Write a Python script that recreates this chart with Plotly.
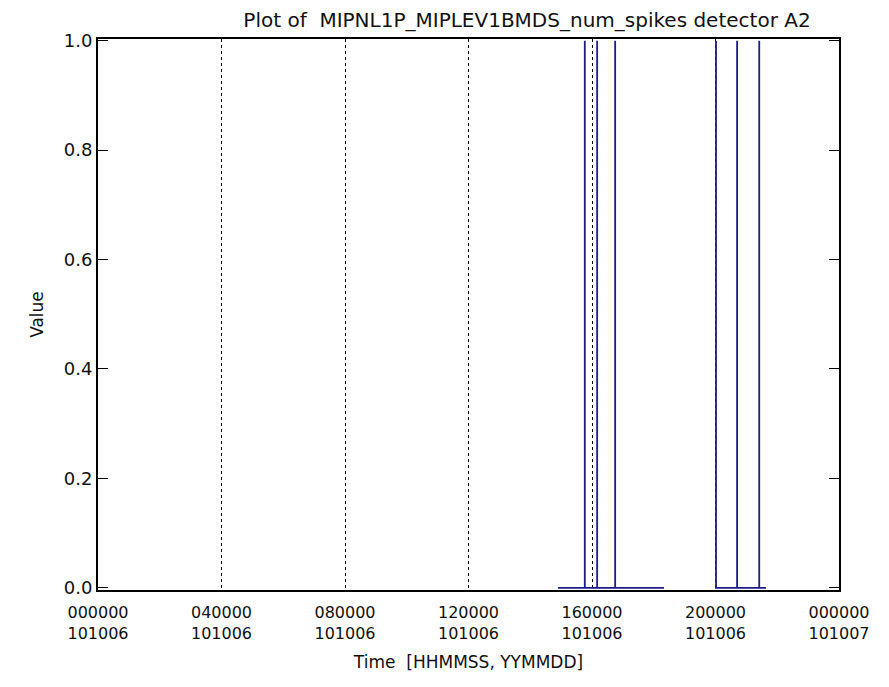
import plotly.graph_objects as go

# Data segments (start/end of sampled intervals) and spike times with value 1
segment_starts = ["2010-10-06 14:54:00", "2010-10-06 19:59:00"]
segment_ends = ["2010-10-06 18:20:00", "2010-10-06 21:38:00"]
spike_times = [
    ["2010-10-06 15:46:00", "2010-10-06 16:10:00", "2010-10-06 16:45:00"],
    ["2010-10-06 20:01:00", "2010-10-06 20:42:00", "2010-10-06 21:25:00"],
]
spike_value = 1.0
base_value = 0.0

tick_times = ["2010-10-06 00:00:00", "2010-10-06 04:00:00", "2010-10-06 08:00:00",
              "2010-10-06 12:00:00", "2010-10-06 16:00:00", "2010-10-06 20:00:00",
              "2010-10-07 00:00:00"]
ytick_vals = [0.0, 0.2, 0.4, 0.6, 0.8, 1.0]

xs, ys = [], []
for s, e, sp in zip(segment_starts, segment_ends, spike_times):
    xs.append(s); ys.append(base_value)
    for t in sp:
        xs += [t, t, t]
        ys += [base_value, spike_value, base_value]
    xs.append(e); ys.append(base_value)
    xs.append(None); ys.append(None)

font = "DejaVu Sans"
W, H = 881, 679  # page body adds an 8px offset in the screenshot

fig = go.Figure()
fig.add_trace(go.Scatter(x=xs, y=ys, mode="lines",
                         line=dict(color="#1c1c8a", width=1.8),
                         connectgaps=False, showlegend=False))

xrange = ["2010-10-06 00:00:00", "2010-10-07 00:00:00"]
fig.update_layout(
    width=W, height=H,
    margin=dict(l=90, r=50, t=31, b=97),
    paper_bgcolor="white", plot_bgcolor="white",
    font=dict(family=font, size=18, color="#111"),
    title=dict(text="Plot of  MIPNL1P_MIPLEV1BMDS_num_spikes detector A2",
               xref="container", yref="container",
               x=519 / W, y=1 - 12 / H, xanchor="center", yanchor="middle",
               font=dict(family=font, size=20, color="#111")),
    xaxis=dict(
        type="date", range=xrange, tickvals=tick_times,
        tickformat="%H%M%S<br>%y%m%d",
        showgrid=True, gridcolor="black", griddash="dot", gridwidth=1,
        showline=True, linecolor="black", linewidth=2, mirror=True,
        ticks="", zeroline=False, ticklabelstandoff=7,
        title=dict(text="Time  [HHMMSS, YYMMDD]", standoff=14,
                   font=dict(family=font, size=17)),
        tickfont=dict(family=font, size=16),
    ),
    yaxis=dict(
        range=[-0.004, 1.003],
        tickvals=ytick_vals,
        tickformat=".1f",
        showgrid=False, zeroline=False,
        showline=True, linecolor="black", linewidth=2, mirror="ticks",
        ticks="inside", ticklen=10, tickcolor="black", tickwidth=1,
        title=dict(text="Value", standoff=16, font=dict(family=font, size=17)),
        tickfont=dict(family=font, size=18),
    ),
)

fig.write_html("out.html")
